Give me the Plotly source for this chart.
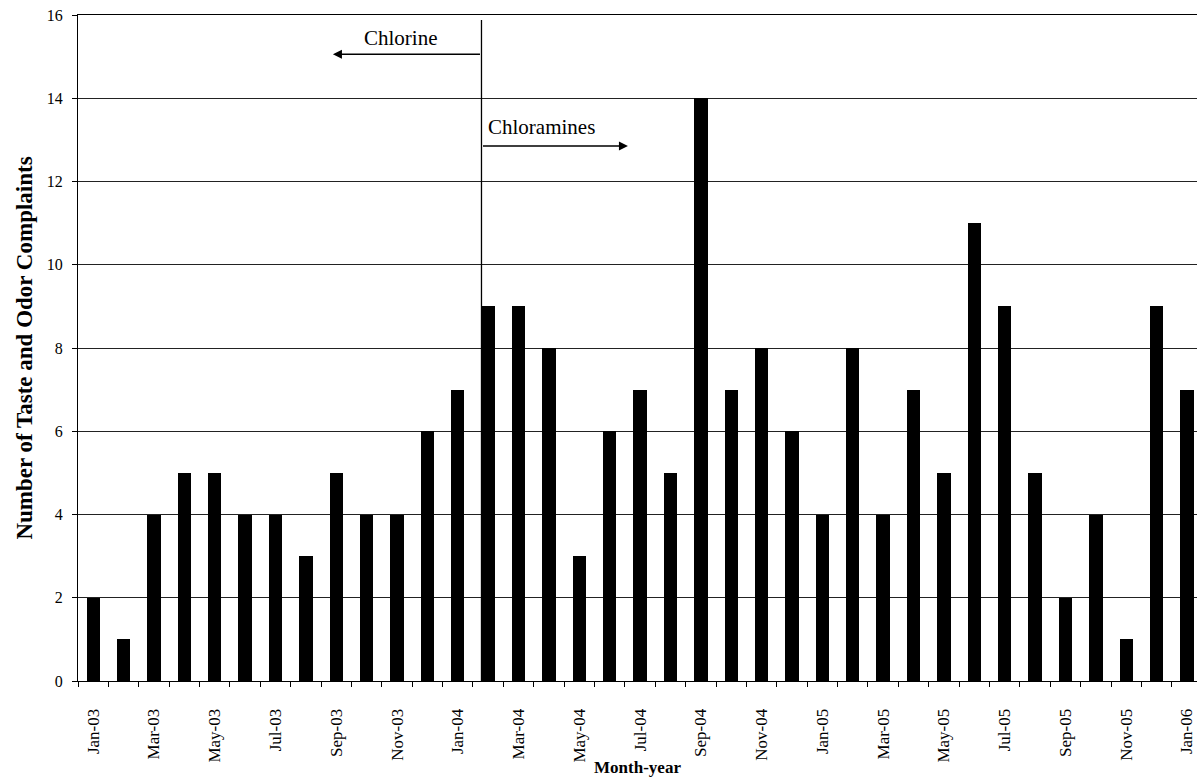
import plotly.graph_objects as go

months = ["Jan-03","Feb-03","Mar-03","Apr-03","May-03","Jun-03","Jul-03","Aug-03","Sep-03","Oct-03","Nov-03","Dec-03",
          "Jan-04","Feb-04","Mar-04","Apr-04","May-04","Jun-04","Jul-04","Aug-04","Sep-04","Oct-04","Nov-04","Dec-04",
          "Jan-05","Feb-05","Mar-05","Apr-05","May-05","Jun-05","Jul-05","Aug-05","Sep-05","Oct-05","Nov-05","Dec-05",
          "Jan-06"]
complaints = [2,1,4,5,5,4,4,3,5,4,4,6,
              7,9,9,8,3,6,7,5,14,7,8,6,
              4,8,4,7,5,11,9,5,2,4,1,9,
              7]
y_ticks = [0,2,4,6,8,10,12,14,16]

x_idx = list(range(len(months)))
tick_idx = x_idx[::2]
tick_lbl = months[::2]

FONT = "Liberation Serif, Times New Roman, serif"

fig = go.Figure()
fig.add_trace(go.Bar(x=x_idx, y=complaints, width=0.44,
                     marker=dict(color="black", line=dict(width=0)),
                     showlegend=False, hoverinfo="x+y"))

switch_x = 12.78
fig.add_shape(type="line", xref="x", yref="y", x0=switch_x, x1=switch_x, y0=0, y1=15.88,
              line=dict(color="black", width=1.3))

# arrows
fig.add_annotation(x=7.89, y=15.06, ax=switch_x, ay=15.06, xref="x", yref="y", axref="x", ayref="y",
                   text="", showarrow=True, arrowhead=2, arrowsize=1.2, arrowwidth=1.5, arrowcolor="black",
                   standoff=0, startstandoff=0)
fig.add_annotation(x=17.60, y=12.85, ax=switch_x, ay=12.85, xref="x", yref="y", axref="x", ayref="y",
                   text="", showarrow=True, arrowhead=2, arrowsize=1.2, arrowwidth=1.5, arrowcolor="black",
                   standoff=0, startstandoff=0)
fig.add_annotation(x=10.13, y=15.45, xref="x", yref="y", text="Chlorine", showarrow=False,
                   xanchor="center", yanchor="middle", font=dict(family=FONT, size=21, color="black"))
fig.add_annotation(x=12.93, y=13.31, xref="x", yref="y", text="Chloramines", showarrow=False,
                   xanchor="left", yanchor="middle", font=dict(family=FONT, size=21, color="black"))

fig.update_layout(
    width=1197, height=777,
    margin=dict(l=78, r=0, t=15, b=96, autoexpand=False),
    paper_bgcolor="white", plot_bgcolor="white",
    font=dict(family=FONT, color="black"),
    bargap=0,
)
fig.update_xaxes(
    range=[-0.5, 36.33], automargin=False,
    tickmode="array", tickvals=tick_idx, ticktext=tick_lbl,
    tickangle=-90, tickfont=dict(family=FONT, size=17, color="black"),
    ticks="outside", ticklen=20, tickcolor="rgba(0,0,0,0)",
    minor=dict(ticks="outside", tick0=-0.5, dtick=1, ticklen=5, tickcolor="black", tickwidth=1, showgrid=False),
    showline=True, linecolor="black", linewidth=1, mirror=True,
    showgrid=False, zeroline=False,
    title=dict(text="<b>Month-year</b>", font=dict(family=FONT, size=17, color="black"), standoff=2),
)
fig.update_yaxes(
    range=[0, 16], tickmode="array", tickvals=y_ticks, automargin=False,
    tickfont=dict(family=FONT, size=16, color="black"),
    ticks="outside", ticklen=5, tickcolor="black", ticklabelstandoff=6,
    showline=True, linecolor="black", linewidth=1,
    showgrid=True, gridcolor="#222", gridwidth=1, zeroline=False,
    title=dict(text="<b>Number of Taste and Odor Complaints</b>", font=dict(family=FONT, size=23, color="black"), standoff=7),
)

fig.write_html("out.html", config={"displayModeBar": False},
               post_script="document.body.style.margin='0';document.body.style.overflow='hidden';")
